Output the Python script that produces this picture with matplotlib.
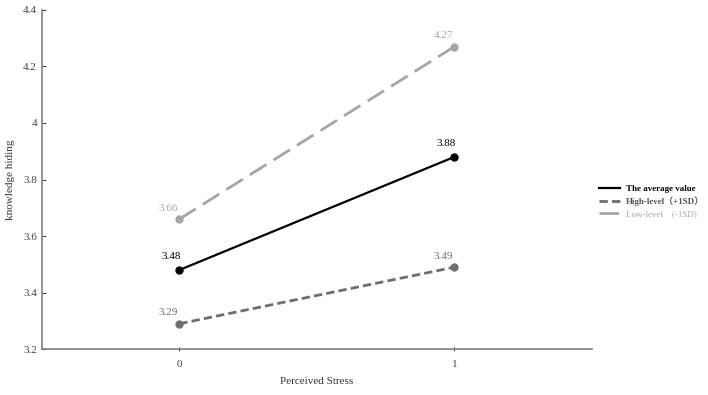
import matplotlib.pyplot as plt
from matplotlib.lines import Line2D

plt.rcParams['font.family'] = ['Liberation Serif', 'Noto Sans CJK SC']

x = [0, 1]
avg = [3.48, 3.88]
high = [3.29, 3.49]
low = [3.66, 4.27]
yticks = [3.2, 3.4, 3.6, 3.8, 4.0, 4.2, 4.4]
ylabels = ['3.2', '3.4', '3.6', '3.8', '4', '4.2', '4.4']

fig = plt.figure(figsize=(7.08, 3.95), dpi=100)
ax = fig.add_axes([0.059, 0.116, 0.777, 0.859])

ax.plot(x, low, color='#a6a6a6', lw=2, dashes=(7, 3), marker='o', ms=5)
ax.plot(x, avg, color='#000000', lw=1.6, marker='o', ms=5)
ax.plot(x, high, color='#6e6e6e', lw=2, dashes=(3, 1.5), marker='o', ms=5)

for xi, v in zip(x, low):
    ax.annotate(f'{v:.2f}', (xi, v), xytext=(-8, 6), textcoords='offset points',
                ha='center', fontsize=8, color='#a6a6a6')
for xi, v in zip(x, avg):
    ax.annotate(f'{v:.2f}', (xi, v), xytext=(-6, 8), textcoords='offset points',
                ha='center', fontsize=8, color='#000000')
for xi, v in zip(x, high):
    ax.annotate(f'{v:.2f}', (xi, v), xytext=(-8, 6), textcoords='offset points',
                ha='center', fontsize=8, color='#6e6e6e')

ax.set_xlim(-0.5, 1.5)
ax.set_ylim(3.2, 4.4)
ax.set_xticks(x)
ax.set_xticklabels(['0', '1'])
ax.set_yticks(yticks)
ax.set_yticklabels(ylabels)
ax.tick_params(labelsize=8, colors='#444444', length=3, width=0.8)
ax.tick_params(axis='y', direction='in')
ax.tick_params(axis='x', direction='inout', pad=6)
for s in ['top', 'right']:
    ax.spines[s].set_visible(False)
for s in ['left', 'bottom']:
    ax.spines[s].set_color('#808080')
    ax.spines[s].set_linewidth(1.2)

ax.set_xlabel('Perceived Stress', fontsize=8, color='#333333', labelpad=6)
ax.set_ylabel('knowledge hiding', fontsize=8, color='#333333', labelpad=6)

handles = [
    Line2D([], [], color='#000000', lw=1.6),
    Line2D([], [], color='#6e6e6e', lw=2, dashes=(3, 1.5)),
    Line2D([], [], color='#a6a6a6', lw=2, dashes=(7, 3)),
]
leg = fig.legend(handles, ['The average value', 'High-level（+1SD）', 'Low-level　(-1SD)'],
                 loc='center left', bbox_to_anchor=(0.846, 0.49), frameon=False,
                 borderaxespad=0, borderpad=0,
                 fontsize=6.5, handlelength=2.3, handletextpad=0.7, labelspacing=0.4)
for t, c, w in zip(leg.get_texts(), ['#000000', '#555555', '#a6a6a6'], ['bold', 'bold', 'normal']):
    t.set_color(c)
    t.set_fontweight(w)

fig.savefig('out.png', dpi=100)
